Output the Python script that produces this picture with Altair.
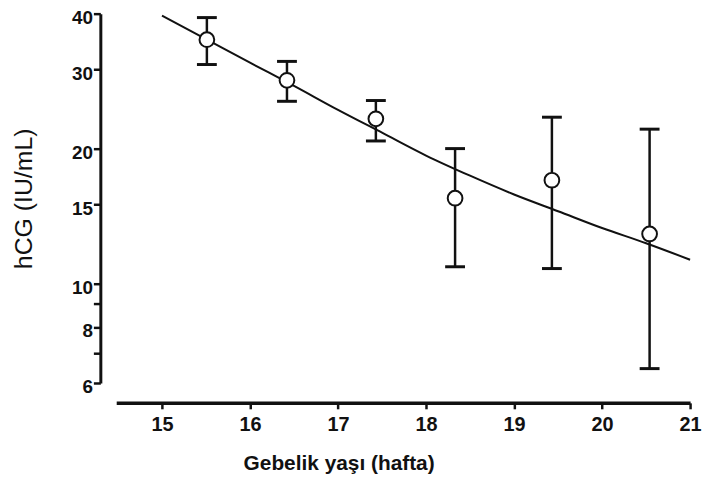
import altair as alt
import pandas as pd

# Data
week = [15.51, 16.42, 17.43, 18.33, 19.43, 20.54]
hcg_mean = [35.0, 28.4, 23.3, 15.5, 17.0, 12.9]
hcg_low = [30.8, 25.5, 20.8, 10.9, 10.8, 6.46]
hcg_high = [39.2, 31.3, 25.6, 20.0, 23.5, 22.1]

curve_week = [15.0, 15.5, 16.0, 16.5, 17.0, 17.5, 18.0, 18.5, 19.0, 19.5, 20.0, 20.5, 21.0]
curve_hcg = [39.6, 35.1, 31.1, 27.6, 24.4, 21.7, 19.3, 17.4, 15.8, 14.5, 13.3, 12.3, 11.3]

x_ticks = [15, 16, 17, 18, 19, 20, 21]
y_ticks = [6, 7, 8, 9, 10, 15, 20, 30, 40]
y_unlabeled = [7, 9]

pts = pd.DataFrame({"week": week, "hcg": hcg_mean, "lo": hcg_low, "hi": hcg_high})
caps = pd.DataFrame({"week": week + week, "hcg": hcg_low + hcg_high})
curve = pd.DataFrame({"week": curve_week, "hcg": curve_hcg})

FONT = "Liberation Sans"
INK = "#111111"

x_axis = alt.Axis(
    values=x_ticks, format="d", offset=20, grid=False,
    domainColor=INK, domainWidth=3.5, tickColor=INK, tickWidth=2.5, tickSize=6,
    labelFont=FONT, labelFontWeight="bold", labelFontSize=20, labelColor=INK,
    labelPadding=6, labelFlush=False, labelOverlap=False,
    title="Gebelik yaşı (hafta)", titleFont=FONT, titleFontWeight="bold",
    titleFontSize=21, titleColor=INK, titleX=224, titleY=67,
    titleAlign="center", titleBaseline="alphabetic",
)
unl = "||".join(f"datum.value=={v}" for v in y_unlabeled)
y_axis = alt.Axis(
    values=y_ticks, labelExpr=f"({unl}) ? '' : '' + datum.value",
    offset=16, grid=False,
    domainColor=INK, domainWidth=3, tickColor=INK, tickWidth=2.5, tickSize=7,
    labelFont=FONT, labelFontWeight="bold", labelFontSize=19, labelColor=INK,
    labelPadding=1, labelOffset=4, labelFlush=False, labelOverlap=False,
    title="hCG (IU/mL)", titleFont=FONT, titleFontWeight="normal",
    titleFontSize=25, titleColor=INK, titleX=-69, titleY=186,
    titleAlign="center", titleBaseline="alphabetic", titleAngle=270,
)
xs = alt.Scale(domain=[14.48, 21.0], nice=False, zero=False)
ys = alt.Scale(type="log", domain=[6, 40], nice=False)

line = alt.Chart(curve).mark_line(color=INK, strokeWidth=2, interpolate="monotone").encode(
    x=alt.X("week:Q", scale=xs, axis=x_axis),
    y=alt.Y("hcg:Q", scale=ys, axis=y_axis),
)
bars = alt.Chart(pts).mark_rule(color=INK, strokeWidth=2.5).encode(
    x=alt.X("week:Q", scale=xs, axis=x_axis),
    y=alt.Y("lo:Q", scale=ys, axis=y_axis),
    y2="hi:Q",
)
capm = alt.Chart(caps).mark_tick(color=INK, orient="horizontal", size=20, thickness=3, opacity=1).encode(
    x=alt.X("week:Q", scale=xs, axis=x_axis),
    y=alt.Y("hcg:Q", scale=ys, axis=y_axis),
)
dots = alt.Chart(pts).mark_point(shape="circle", filled=True, fill="white", stroke=INK,
                                 strokeWidth=2, size=220, opacity=1).encode(
    x=alt.X("week:Q", scale=xs, axis=x_axis),
    y=alt.Y("hcg:Q", scale=ys, axis=y_axis),
)

chart = alt.layer(line, bars, capm, dots).properties(
    width=578, height=372, autosize="none",
    padding={"left": 109, "top": 4, "right": 12, "bottom": 94},
    background="white",
).configure_view(stroke=None)

chart.save("out.html", embed_options={"renderer": "svg", "actions": False})
